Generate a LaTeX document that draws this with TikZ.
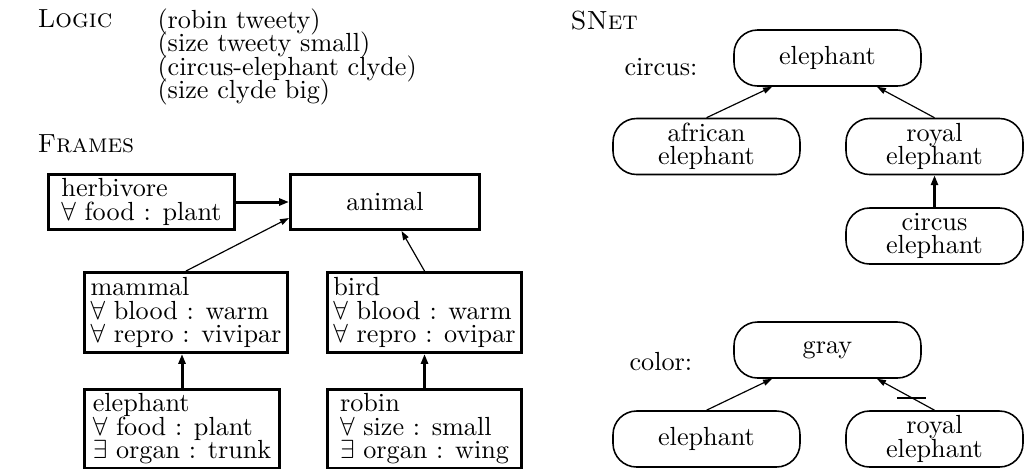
\documentclass[tikz,border=0pt]{standalone}
\usetikzlibrary{arrows.meta,calc}
\newdimen\pxu \pxu=0.3817pt
\begin{document}
\lineskiplimit=-10pt
\begin{tikzpicture}[x=0.3817pt,y=-0.3817pt,
  font=\fontsize{10}{9}\selectfont,
  lbl/.style={anchor=base west,inner sep=0pt},
  frm/.style={draw,line width=1.15pt,anchor=north west,align=left,inner sep=0pt},
  sn/.style={draw,line width=0.6pt,rounded corners=9pt,align=center,inner sep=0pt,
    minimum height=56\pxu},
  thickarr/.style={line width=1.15pt,-{Triangle[length=3.8pt,width=2.7pt]}},
  thinarr/.style={line width=0.45pt,-{Triangle[length=3.4pt,width=2.3pt]}}]
\useasboundingbox (0,0) rectangle (1024,468);
% labels
\node[lbl] (logic) at (37,27) {\textsc{Logic}};
\node[anchor=north west,align=left,inner sep=0pt] (facts) at (157,8)
  {(robin tweety)\\(size tweety small)\\(circus-elephant clyde)\\(size clyde big)};
\node[lbl] (frames) at (37,152) {\textsc{Frames}};
\node[lbl] (snet) at (570,29) {\textsc{SNet}};
\node[lbl] (circ) at (624,75) {circus:};
\node[lbl] (col) at (629,370) {color:};
% frames
\node[frm,minimum width=186\pxu,minimum height=55\pxu] (hb) at (47,173)
  {herbivore\\$\forall$ food : plant};
\node[frm,minimum width=189\pxu,minimum height=55\pxu,align=center] (an) at (289,173) {animal};
\node[frm,minimum width=203\pxu,minimum height=80\pxu] (ma) at (83,271)
  {mammal\\$\forall$ blood : warm\\$\forall$ repro : vivipar};
\node[frm,minimum width=194\pxu,minimum height=80\pxu] (bi) at (326,271)
  {bird\\$\forall$ blood : warm\\$\forall$ repro : ovipar};
\node[frm,minimum width=195\pxu,minimum height=79\pxu] (el) at (83,388)
  {elephant\\$\forall$ food : plant\\$\exists$ organ : trunk};
\node[frm,minimum width=194\pxu,minimum height=79\pxu] (ro) at (326,388)
  {robin\\$\forall$ size : small\\$\exists$ organ : wing};
\draw[thickarr] (hb.east) -- (an.west);
\draw[thinarr] (ma.north) -- ($(an.south west)+(0,-13)$);
\draw[thinarr] (bi.north) -- ($(an.south)+(16.5,0)$);
\draw[thickarr] (el.north) -- (el.north |- ma.south);
\draw[thickarr] (ro.north) -- (bi.south);
% snet circus
\node[sn,minimum width=187\pxu] (se) at (827.5,58) {elephant};
\node[sn,minimum width=187\pxu] (af) at (706.5,146.5) {african\\elephant};
\node[sn,minimum width=177\pxu] (r1) at (934.5,146.5) {royal\\elephant};
\node[sn,minimum width=177\pxu] (ce) at (934.5,236) {circus\\elephant};
\draw[thinarr] (af.north) -- ($(se.south)+(-55.5,0)$);
\draw[thinarr] (r1.north) -- ($(se.south)+(49.5,0)$);
\draw[thickarr] (ce.north) -- (r1.south);
% snet color
\node[sn,minimum width=187\pxu] (gr) at (827.5,350) {gray};
\node[sn,minimum width=187\pxu] (e2) at (706.5,439) {elephant};
\node[sn,minimum width=177\pxu] (r2) at (934.5,439) {royal\\elephant};
\draw[thinarr] (e2.north) -- ($(gr.south)+(-55.5,0)$);
\draw[thinarr] (r2.north) -- coordinate[pos=0.4] (cut) ($(gr.south)+(49.5,0)$);
\draw[line width=0.7pt] ($(cut)+(-14.5,0)$) -- ($(cut)+(14.5,0)$);
\end{tikzpicture}
\end{document}
